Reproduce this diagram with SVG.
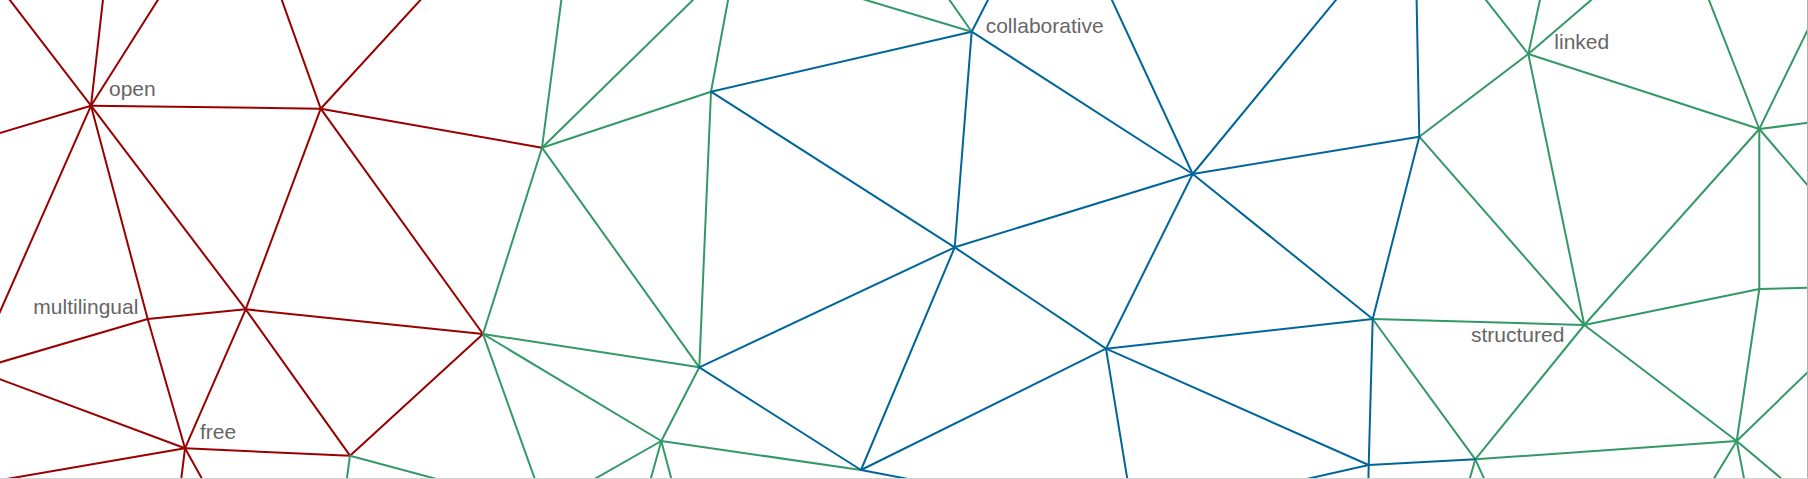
<svg xmlns="http://www.w3.org/2000/svg" width="1808" height="479" viewBox="0 0 1808 479">
<style>
.r{stroke:#990000}
.g{stroke:#339966}
.b{stroke:#006699}
#edges line{stroke-width:2;fill:none;stroke-linecap:round}
.lbl{font-family:"Liberation Sans",Arial,sans-serif;font-size:21px;fill:#666666}
</style>
<rect width="1808" height="479" fill="#ffffff"/>
<g id="edges">
<g class="r">
<line x1="91" y1="105.7" x2="6" y2="-5"/>
<line x1="91" y1="105.7" x2="103.5" y2="-5"/>
<line x1="91" y1="105.7" x2="161" y2="-5"/>
<line x1="91" y1="105.7" x2="-5" y2="134.5"/>
<line x1="91" y1="105.7" x2="-3" y2="318.5"/>
<line x1="91" y1="105.7" x2="147.7" y2="319"/>
<line x1="91" y1="105.7" x2="245.7" y2="309.3"/>
<line x1="91" y1="105.7" x2="320.7" y2="108.7"/>
<line x1="320.7" y1="108.7" x2="280" y2="-5"/>
<line x1="320.7" y1="108.7" x2="425" y2="-5"/>
<line x1="320.7" y1="108.7" x2="542" y2="147.7"/>
<line x1="320.7" y1="108.7" x2="245.7" y2="309.3"/>
<line x1="320.7" y1="108.7" x2="483" y2="334"/>
<line x1="147.7" y1="319" x2="-5" y2="363.8"/>
<line x1="147.7" y1="319" x2="245.7" y2="309.3"/>
<line x1="147.7" y1="319" x2="185" y2="448.3"/>
<line x1="245.7" y1="309.3" x2="185" y2="448.3"/>
<line x1="245.7" y1="309.3" x2="350" y2="455.7"/>
<line x1="245.7" y1="309.3" x2="483" y2="334"/>
<line x1="185" y1="448.3" x2="-5" y2="377.4"/>
<line x1="185" y1="448.3" x2="-5" y2="481"/>
<line x1="185" y1="448.3" x2="180.5" y2="485"/>
<line x1="185" y1="448.3" x2="205.5" y2="485"/>
<line x1="185" y1="448.3" x2="350" y2="455.7"/>
<line x1="350" y1="455.7" x2="483" y2="334"/>
</g>
<g class="g">
<line x1="542" y1="147.7" x2="562" y2="-5"/>
<line x1="542" y1="147.7" x2="698" y2="-5"/>
<line x1="542" y1="147.7" x2="711" y2="91.7"/>
<line x1="542" y1="147.7" x2="483" y2="334"/>
<line x1="542" y1="147.7" x2="699.3" y2="367.3"/>
<line x1="711" y1="91.7" x2="729" y2="-5"/>
<line x1="711" y1="91.7" x2="699.3" y2="367.3"/>
<line x1="971.7" y1="31.7" x2="946" y2="-5"/>
<line x1="971.7" y1="31.7" x2="849" y2="-5"/>
<line x1="483" y1="334" x2="699.3" y2="367.3"/>
<line x1="483" y1="334" x2="661.3" y2="441"/>
<line x1="483" y1="334" x2="537" y2="485"/>
<line x1="699.3" y1="367.3" x2="661.3" y2="441"/>
<line x1="661.3" y1="441" x2="584" y2="485"/>
<line x1="661.3" y1="441" x2="649" y2="485"/>
<line x1="661.3" y1="441" x2="673" y2="485"/>
<line x1="661.3" y1="441" x2="861" y2="470"/>
<line x1="350" y1="455.7" x2="346" y2="485"/>
<line x1="350" y1="455.7" x2="459" y2="485"/>
<line x1="1419.3" y1="136.7" x2="1528.3" y2="54"/>
<line x1="1419.3" y1="136.7" x2="1584.3" y2="325"/>
<line x1="1528.3" y1="54" x2="1482" y2="-5"/>
<line x1="1528.3" y1="54" x2="1541" y2="-5"/>
<line x1="1528.3" y1="54" x2="1597" y2="-5"/>
<line x1="1528.3" y1="54" x2="1584.3" y2="325"/>
<line x1="1528.3" y1="54" x2="1759.3" y2="129"/>
<line x1="1759.3" y1="129" x2="1707" y2="-5"/>
<line x1="1759.3" y1="129" x2="1812" y2="21"/>
<line x1="1759.3" y1="129" x2="1812" y2="122.3"/>
<line x1="1759.3" y1="129" x2="1759.3" y2="289"/>
<line x1="1759.3" y1="129" x2="1584.3" y2="325"/>
<line x1="1759.3" y1="129" x2="1812" y2="190.5"/>
<line x1="1372.7" y1="319" x2="1584.3" y2="325"/>
<line x1="1372.7" y1="319" x2="1475.3" y2="459.3"/>
<line x1="1584.3" y1="325" x2="1759.3" y2="289"/>
<line x1="1584.3" y1="325" x2="1475.3" y2="459.3"/>
<line x1="1584.3" y1="325" x2="1736.7" y2="441"/>
<line x1="1759.3" y1="289" x2="1812" y2="287.6"/>
<line x1="1759.3" y1="289" x2="1736.7" y2="441"/>
<line x1="1736.7" y1="441" x2="1812" y2="368"/>
<line x1="1736.7" y1="441" x2="1475.3" y2="459.3"/>
<line x1="1736.7" y1="441" x2="1710" y2="485"/>
<line x1="1736.7" y1="441" x2="1745.3" y2="485"/>
<line x1="1736.7" y1="441" x2="1789" y2="485"/>
<line x1="1475.3" y1="459.3" x2="1468" y2="485"/>
<line x1="1475.3" y1="459.3" x2="1487" y2="485"/>
</g>
<g class="b">
<line x1="711" y1="91.7" x2="971.7" y2="31.7"/>
<line x1="711" y1="91.7" x2="954.7" y2="247.3"/>
<line x1="971.7" y1="31.7" x2="990.5" y2="-5"/>
<line x1="971.7" y1="31.7" x2="1192.7" y2="174"/>
<line x1="971.7" y1="31.7" x2="954.7" y2="247.3"/>
<line x1="1192.7" y1="174" x2="1109.6" y2="-5"/>
<line x1="1192.7" y1="174" x2="1340" y2="-5"/>
<line x1="1192.7" y1="174" x2="1419.3" y2="136.7"/>
<line x1="1192.7" y1="174" x2="954.7" y2="247.3"/>
<line x1="1192.7" y1="174" x2="1106" y2="348.7"/>
<line x1="1192.7" y1="174" x2="1372.7" y2="319"/>
<line x1="954.7" y1="247.3" x2="699.3" y2="367.3"/>
<line x1="954.7" y1="247.3" x2="861" y2="470"/>
<line x1="954.7" y1="247.3" x2="1106" y2="348.7"/>
<line x1="1419.3" y1="136.7" x2="1416.5" y2="-5"/>
<line x1="1419.3" y1="136.7" x2="1372.7" y2="319"/>
<line x1="699.3" y1="367.3" x2="861" y2="470"/>
<line x1="861" y1="470" x2="1106" y2="348.7"/>
<line x1="861" y1="470" x2="940" y2="485"/>
<line x1="1106" y1="348.7" x2="1372.7" y2="319"/>
<line x1="1106" y1="348.7" x2="1368.7" y2="465"/>
<line x1="1106" y1="348.7" x2="1128.3" y2="485"/>
<line x1="1372.7" y1="319" x2="1368.7" y2="465"/>
<line x1="1475.3" y1="459.3" x2="1368.7" y2="465"/>
<line x1="1368.7" y1="465" x2="1368.3" y2="485"/>
<line x1="1368.7" y1="465" x2="1280" y2="485"/>
</g>
</g>
<g id="node-open"><text class="lbl" x="109" y="95.7">open</text></g>
<g id="node-collaborative"><text class="lbl" x="985.7" y="33.3">collaborative</text></g>
<g id="node-linked"><text class="lbl" x="1554.3" y="49">linked</text></g>
<g id="node-multilingual"><text class="lbl" x="33.3" y="314">multilingual</text></g>
<g id="node-free"><text class="lbl" x="200" y="439.3">free</text></g>
<g id="node-structured"><text class="lbl" x="1471" y="342.3">structured</text></g>
<line x1="1807.5" y1="0" x2="1807.5" y2="479" stroke="#b0b0b0" stroke-width="1"/>
<line x1="0" y1="478.5" x2="1808" y2="478.5" stroke="#d0d0d0" stroke-width="1"/>
</svg>
